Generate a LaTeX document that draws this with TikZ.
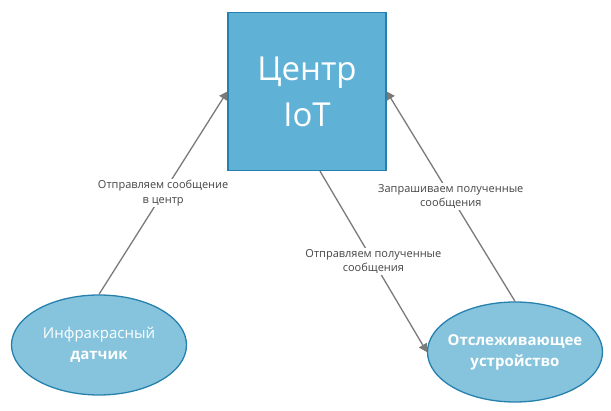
\documentclass[tikz,border=0pt]{standalone}
\usepackage{fontspec}
\setmainfont{Open Sans}
\usetikzlibrary{shapes.geometric,arrows.meta,positioning}
\definecolor{boxblue}{HTML}{5FB1D6}
\definecolor{ovalblue}{HTML}{86C4DE}
\definecolor{edgeblue}{HTML}{2680AD}
\definecolor{linegray}{HTML}{7A7A7A}
\definecolor{textgray}{HTML}{444444}

\begin{document}
\begin{tikzpicture}[x=1pt,y=-1pt,
    hub/.style={rectangle, draw=edgeblue, fill=boxblue, line width=1.3pt, minimum size=158pt, align=center, text=white, font=\fontsize{33}{46}\selectfont},
    device/.style={ellipse, draw=edgeblue, fill=ovalblue, line width=1.3pt, minimum width=175pt, minimum height=100pt, inner sep=0pt},
    devtext/.style={align=center, text=white, font=\fontsize{15}{21}\selectfont},
    msg/.style={fill=white, inner sep=1.5pt, align=center, text=textgray, font=\fontsize{11}{14.5}\selectfont},
    flow/.style={draw=linegray, line width=1.3pt, -{Triangle[width=9pt,length=8pt]}}]
    \useasboundingbox (0,0) rectangle (611,411);

    \node[hub] (centr) at (307,91.5) {Центр\\IoT};
    \node[device, label={[devtext]center:Инфракрасный\\\textbf{датчик}}] (sensor) at (99,345) {};
    \node[device, label={[devtext]center:\textbf{Отслеживающее}\\\textbf{устройство}}] (tracker) at (515,352) {};

    \draw[flow] (sensor.north) -- node[msg] {Отправляем сообщение\\в центр} (centr.west);
    \draw[flow] ([xshift=13pt]centr.south) -- node[msg] {Отправляем полученные\\сообщения} (tracker.west);
    \draw[flow] (tracker.north) -- node[msg] {Запрашиваем полученные\\сообщения} (centr.east);
\end{tikzpicture}
\end{document}
